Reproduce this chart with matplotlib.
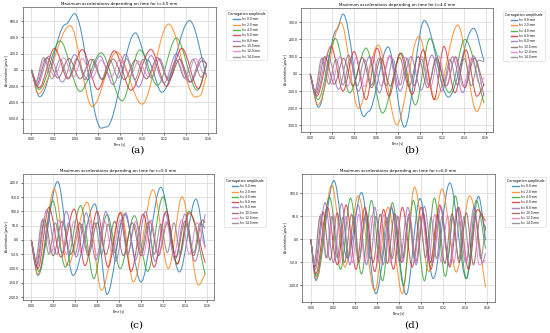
import matplotlib.pyplot as plt
from matplotlib.path import Path
from matplotlib.patches import PathPatch
from matplotlib.lines import Line2D

# corrugation amplitudes (legend) and line colours
heights = [0.0, 2.0, 4.0, 6.0, 8.0, 10.0, 12.0, 14.0]
colors = ['tab:blue', 'tab:orange', 'tab:green', 'tab:red',
          'tab:purple', 'tab:brown', 'tab:pink', 'tab:gray']
thickness = [3.0, 4.0, 5.0, 6.0]
panel_tags = ['(a)', '(b)', '(c)', '(d)']

# --- panel (a), t=3.0 mm : peak / valley points ---
a_t = [
    [0, .0075, .031, .039, .063, .068, .094, .105, .118, .143, .1585],
    [0, .006, .035, .055, .077, .1, .124, .148, .152, .1585],
    [0, .007, .026, .044, .063, .082, .098, .114, .131, .150, .1585],
    [0, .007, .021, .033, .046, .060, .075, .090, .108, .122, .136, .151, .1585],
    [0, .005, .016, .028, .039, .051, .062, .074, .085, .097, .108, .120, .131, .143, .154, .1585],
    [0, .0045, .014, .024, .034, .044, .054, .064, .074, .084, .094, .104, .114, .124, .134, .144, .154, .1585],
    [0, .004, .012, .021, .029, .038, .046, .055, .063, .072, .080, .089, .097, .106, .114, .123, .131, .140, .148, .157, .1585],
    [0, .0035, .011, .0185, .026, .0335, .041, .0485, .056, .0635, .071, .0785, .086, .0935, .101, .1085, .116, .1235, .131, .1385, .146, .1535, .1585],
]
a_v = [
    [0, -330, 560, 690, -715, -700, 455, 120, -275, 605, -90],
    [0, -290, 545, -450, 220, -420, 563, -335, -320, -60],
    [0, -240, 355, -265, 210, -380, 245, -190, 390, -250, 60],
    [0, -220, 265, -110, 250, -240, 235, -250, 250, -200, 265, -230, 80],
    [0, -200, 170, -150, 185, -120, 170, -180, 190, -210, 175, -160, 200, -150, 150, 60],
    [0, -180, 150, -100, 140, -110, 130, -120, 135, -120, 120, -110, 150, -130, 130, -150, 110, 80],
    [0, -170, 130, -80, 150, -90, 140, -100, 120, -90, 130, -80, 110, -90, 150, -100, 130, -120, 140, -60, -40],
    [0, -160, 150, -110, 130, -100, 140, -120, 130, -110, 120, -100, 140, -120, 130, -100, 140, -110, 120, -100, 130, -90, 60],
]

# --- panel (b), t=4.0 mm ---
b_t = [
    [0, .0076, .024, .030, .049, .053, .071, .086, .104, .126, .149, .1585],
    [0, .007, .028, .044, .062, .079, .099, .1145, .1345, .152, .1585],
    [0, .007, .023, .036, .051, .066, .083, .096, .109, .127, .141, .1585],
    [0, .006, .019, .030, .040, .051, .061, .072, .082, .093, .103, .113, .122, .132, .142, .152, .1585],
    [0, .0055, .016, .026, .035, .044, .054, .063, .073, .082, .092, .101, .111, .120, .130, .139, .149, .1585],
    [0, .005, .0135, .022, .0305, .039, .0475, .056, .0645, .073, .0815, .090, .0985, .107, .1155, .124, .1325, .141, .1495, .1585],
    [0, .0045, .012, .0195, .027, .0345, .042, .0495, .057, .0645, .072, .0795, .087, .0945, .102, .1095, .117, .1245, .132, .1395, .147, .1545, .1585],
    [0, .004, .0105, .017, .0235, .030, .0365, .043, .0495, .056, .0625, .069, .0755, .082, .0885, .095, .1015, .108, .1145, .121, .1275, .134, .1405, .147, .1535, .1585],
]
b_v = [
    [0, -194, 255, 348, -248, -220, 157, -310, 310, -135, 265, 75],
    [0, -180, 298, -200, 168, -296, 217, -151, 284, -219, -110],
    [0, -150, 205, -110, 150, -228, 120, -180, 205, -110, 200, -170],
    [0, -130, 160, -100, 130, -150, 150, -130, 120, -120, 140, -150, 160, -110, 140, -130, -60],
    [0, -120, 110, -90, 110, -100, 100, -110, 105, -100, 100, -95, 110, -100, 100, -110, 105, -130],
    [0, -110, 100, -60, 90, -70, 95, -80, 90, -70, 95, -75, 100, -80, 90, -70, 100, -80, 90, -70],
    [0, -100, 95, -60, 100, -70, 95, -75, 100, -70, 105, -75, 95, -70, 100, -80, 105, -70, 95, -75, 90, -60, -20],
    [0, -110, 90, -60, 85, -65, 90, -70, 85, -65, 90, -70, 85, -65, 90, -70, 85, -65, 90, -70, 85, -65, 90, -70, 80, 70],
]

# --- panel (c), t=5.0 mm ---
c_t = [
    [0, .006, .024, .038, .058, .069, .085, .100, .118, .135, .150, .1585],
    [0, .006, .021, .033, .051, .064, .082, .093, .111, .125, .1375, .1525, .1585],
    [0, .007, .0195, .031, .045, .057, .069, .081, .094, .106, .120, .133, .1435, .1585],
    [0, .006, .016, .027, .039, .049, .060, .070, .081, .091, .102, .112, .123, .133, .144, .1585],
    [0, .005, .014, .023, .032, .041, .050, .059, .068, .077, .086, .095, .104, .113, .122, .131, .140, .149, .1585],
    [0, .0045, .012, .020, .028, .036, .044, .052, .060, .068, .076, .084, .092, .100, .108, .116, .124, .132, .140, .148, .156, .1585],
    [0, .004, .011, .018, .025, .032, .039, .046, .053, .060, .067, .074, .081, .088, .095, .102, .109, .116, .123, .130, .137, .144, .151, .1585],
    [0, .0035, .010, .016, .022, .028, .034, .040, .046, .052, .058, .064, .070, .076, .082, .088, .094, .100, .106, .112, .118, .124, .130, .136, .142, .148, .154, .1585],
]
c_v = [
    [0, -124, 204, -124, 126, -190, 90, -147, 184, -112, 143, -25],
    [0, -120, 178, -89, 132, -176, 97, -147, 175, -100, 151, -158, -118],
    [0, -110, 137, -95, 120, -135, 89, -100, 85, -110, 151, -83, 100, -120],
    [0, -100, 114, -60, 108, -90, 100, -95, 95, -110, 90, -95, 100, -85, 95, -80],
    [0, -95, 105, -50, 100, -60, 95, -70, 100, -75, 95, -70, 100, -75, 95, -70, 90, -75, 90],
    [0, -90, 70, -55, 65, -50, 60, -55, 60, -50, 65, -55, 60, -55, 65, -55, 60, -60, 65, -55, 70, 60],
    [0, -85, 75, -45, 70, -50, 65, -50, 70, -55, 65, -50, 70, -50, 65, -55, 70, -50, 65, -55, 70, -50, 60, -30],
    [0, -80, 70, -50, 60, -45, 60, -50, 55, -45, 60, -50, 55, -45, 60, -50, 55, -45, 60, -50, 55, -45, 60, -50, 55, -45, 60, 40],
]

# --- panel (d), t=6.0 mm ---
d_t = [
    [0, .0046, .021, .033, .046, .059, .073, .0865, .099, .111, .126, .141, .152, .1585],
    [0, .005, .019, .031, .043, .058, .070, .083, .094, .107, .119, .132, .144, .1585],
    [0, .005, .017, .027, .036, .046, .055, .065, .074, .084, .093, .103, .112, .122, .131, .141, .150, .1585],
    [0, .0045, .015, .024, .032, .041, .049, .058, .066, .075, .083, .092, .100, .109, .117, .126, .134, .143, .151, .1585],
    [0, .004, .013, .0205, .028, .0355, .043, .0505, .058, .0655, .073, .0805, .088, .0955, .103, .1105, .118, .1255, .133, .1405, .148, .1555, .1585],
    [0, .0035, .011, .0175, .024, .0305, .037, .0435, .050, .0565, .063, .0695, .076, .0825, .089, .0955, .102, .1085, .115, .1215, .128, .1345, .141, .1475, .154, .1585],
    [0, .003, .009, .0147, .0205, .0262, .032, .0377, .0435, .0492, .055, .0607, .0665, .0722, .078, .0837, .0895, .0952, .101, .1067, .1125, .1182, .124, .1297, .1355, .1412, .147, .1527, .1585],
    [0, .003, .0085, .014, .019, .024, .029, .034, .039, .044, .049, .054, .059, .064, .069, .074, .079, .084, .089, .094, .099, .104, .109, .114, .119, .124, .129, .134, .139, .144, .149, .154, .1585],
]
d_v = [
    [0, -89, 128, -40, 102, -118, 67, -120, 89, -85, 123, -85, 94, -2],
    [0, -85, 118, -60, 95, -111, 70, -118, 114, -70, 110, -71, 95, -104],
    [0, -80, 92, -65, 90, -75, 85, -90, 80, -100, 85, -90, 90, -80, 95, -85, 85, -20],
    [0, -75, 70, -55, 75, -65, 70, -70, 65, -65, 70, -60, 70, -65, 75, -60, 70, -65, 65, 40],
    [0, -65, 80, -50, 78, -55, 75, -55, 70, -55, 72, -50, 70, -55, 72, -50, 70, -55, 68, -50, 70, -50, -30],
    [0, -60, 60, -45, 58, -50, 55, -50, 58, -50, 55, -52, 56, -50, 55, -48, 57, -50, 55, -52, 56, -50, 58, -55, 55, 20],
    [0, -55, 55, -40, 55, -50, 50, -50, 55, -48, 52, -50, 55, -50, 52, -48, 55, -50, 52, -50, 55, -48, 52, -50, 55, -50, 52, -55, -45],
    [0, -50, 50, -40, 50, -40, 48, -42, 50, -40, 48, -42, 50, -40, 48, -42, 50, -40, 48, -42, 50, -40, 48, -42, 50, -40, 48, -42, 50, -40, 48, -42, 30],
]

y_ticks = [
    [-600, -400, -200, 0, 200, 400, 600],
    [-300, -200, -100, 0, 100, 200, 300],
    [-200, -150, -100, -50, 0, 50, 100, 150, 200],
    [-100, -50, 0, 50, 100],
]
y_lims = [(-777, 768), (-339, 383), (-210, 230), (-136, 142)]
x_ticks = [0.00, 0.02, 0.04, 0.06, 0.08, 0.10, 0.12, 0.14, 0.16]

# axes boxes in figure fractions [left, bottom, width, height]
boxes = [
    [0.041, 0.600, 0.352, 0.378],
    [0.548, 0.603, 0.349, 0.373],
    [0.041, 0.099, 0.349, 0.378],
    [0.549, 0.093, 0.351, 0.384],
]
tag_pos = [(0.249, 0.548), (0.749, 0.548), (0.247, 0.024), (0.749, 0.024)]


def smooth_path(t, v):
    # cubic bezier through the read peaks, flat at every peak/valley
    verts = [(t[0], v[0])]
    codes = [Path.MOVETO]
    n = len(t)
    for i in range(1, n):
        dt = t[i] - t[i - 1]
        if i == 1:
            c1 = (t[0] + dt / 3, v[0] + (v[1] - v[0]) / 3)
        else:
            c1 = (t[i - 1] + dt / 3, v[i - 1])
        if i == n - 1:
            c2 = (t[i] - dt / 3, v[i] - (v[i] - v[i - 1]) / 3)
        else:
            c2 = (t[i] - dt / 3, v[i])
        verts += [c1, c2, (t[i], v[i])]
        codes += [Path.CURVE4] * 3
    return Path(verts, codes)


fig = plt.figure(figsize=(5.5, 3.33), dpi=100)
fig.patch.set_facecolor('white')

panels = [(a_t, a_v), (b_t, b_v), (c_t, c_v), (d_t, d_v)]
small = 2.2

for k, (ts, vs) in enumerate(panels):
    ax = fig.add_axes(boxes[k])
    for t, v, col in zip(ts, vs, colors):
        ax.add_patch(PathPatch(smooth_path(t, v), fill=False,
                               edgecolor=col, lw=0.75, alpha=0.8))
    ax.set_xlim(-0.008, 0.167)
    ax.set_ylim(*y_lims[k])
    ax.set_xticks(x_ticks)
    ax.set_yticks(y_ticks[k])
    ax.set_xticklabels([f'{x:.2f}' for x in x_ticks])
    ax.set_yticklabels([f'{y:.1f}' for y in y_ticks[k]])
    ax.tick_params(labelsize=small, length=1.5, width=0.4, pad=1.0)
    ax.grid(True, color='#dddddd', lw=0.6)
    ax.set_axisbelow(True)
    for s in ax.spines.values():
        s.set_linewidth(0.5)
        s.set_color('#555555')
    ax.set_title(f'Maximum accelerations depending on time for t={thickness[k]:.1f} mm',
                 fontsize=2.9, pad=1.5)
    ax.set_xlabel('Time [s]', fontsize=small, labelpad=1)
    ax.set_ylabel('Acceleration [μm/s²]', fontsize=small)
    ax.yaxis.set_label_coords(-0.072, 0.5)

    handles = [Line2D([], [], color=c, lw=1.0, alpha=0.8) for c in colors]
    labels = [f'h= {h:.1f} mm' for h in heights]
    leg = ax.legend(handles, labels, title='Corrugation amplitude',
                    loc='upper left', bbox_to_anchor=(1.052, 0.976),
                    borderaxespad=0, fontsize=2.1, title_fontsize=2.4,
                    handlelength=2.2, labelspacing=0.45, borderpad=0.6,
                    frameon=True)
    leg.get_frame().set_linewidth(0.4)

    fig.text(tag_pos[k][0], tag_pos[k][1], panel_tags[k], ha='center',
             va='center', fontsize=7.5, family='DejaVu Serif')

fig.savefig('out.png', dpi=100)
